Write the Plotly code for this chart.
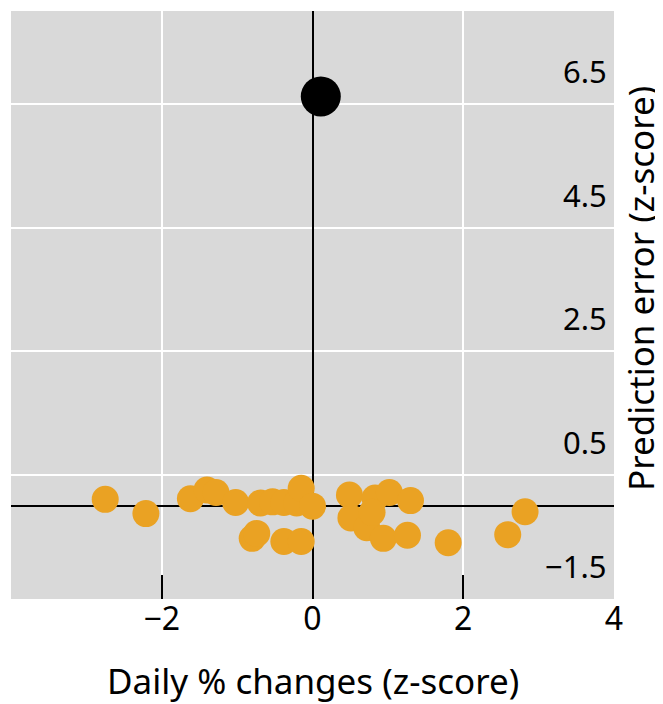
import plotly.graph_objects as go

# Data
orange_x = [-2.75, -2.21, -1.62, -1.40, -1.28, -1.02, -0.80, -0.74, -0.69, -0.53,
            -0.38, -0.21, -0.15, 0.00, -0.38, -0.15, 0.49, 0.51, 0.83, 1.02,
            1.30, 0.72, 0.94, 1.26, 1.80, 2.59, 2.82, 0.79]
orange_y = [0.11, -0.12, 0.12, 0.26, 0.22, 0.06, -0.52, -0.44, 0.05, 0.07,
            0.06, 0.05, 0.29, 0.00, -0.57, -0.57, 0.18, -0.19, 0.13, 0.22,
            0.09, -0.35, -0.52, -0.47, -0.59, -0.46, -0.09, -0.10]
outlier_x = [0.11]
outlier_y = [6.62]

x_tick_vals = [-4, -2, 0, 2, 4]
x_tick_text = ["", "\u22122", "0", "2", "4"]
y_grid_vals = [0.5, 2.5, 4.5, 6.5]
y_label_vals = [6.5, 4.5, 2.5, 0.5, -1.5]
y_label_text = ["6.5", "4.5", "2.5", "0.5", "\u22121.5"]

FONT = "Noto Sans"
ORANGE = "#EAA223"
TICK_SIZE = 31
XTICK_SIZE = 32
TITLE_SIZE = 35

fig = go.Figure()
fig.add_trace(go.Scatter(x=orange_x, y=orange_y, mode="markers",
                         marker=dict(size=27, color=ORANGE, line=dict(width=0)),
                         showlegend=False, hoverinfo="skip"))
fig.add_trace(go.Scatter(x=outlier_x, y=outlier_y, mode="markers",
                         marker=dict(size=40, color="black", line=dict(width=0)),
                         showlegend=False, hoverinfo="skip"))

annotations = []
for v, t in zip(y_label_vals, y_label_text):
    annotations.append(dict(x=1, xref="paper", y=v, yref="y", text=t,
                            showarrow=False, xanchor="right", yanchor="middle",
                            xshift=-5, yshift=33,
                            font=dict(family=FONT, size=TICK_SIZE, color="black")))
annotations.append(dict(x=0.5, xref="paper", y=0, yref="paper",
                        text="Daily % changes (z-score)", showarrow=False,
                        xanchor="center", yanchor="middle", yshift=-81,
                        font=dict(family=FONT, size=TITLE_SIZE, color="black")))
annotations.append(dict(x=1, xref="paper", y=0.5, yref="paper",
                        text="Prediction error (z-score)", showarrow=False,
                        textangle=-90, xanchor="center", yanchor="middle",
                        xshift=26, yshift=16,
                        font=dict(family=FONT, size=TITLE_SIZE, color="black")))

fig.update_layout(
    width=655, height=696,
    margin=dict(l=3, r=49, t=3, b=105),
    paper_bgcolor="white",
    plot_bgcolor="#D9D9D9",
    font=dict(family=FONT, size=TICK_SIZE, color="black"),
    annotations=annotations,
    xaxis=dict(range=[-4, 4], tickvals=x_tick_vals, ticktext=x_tick_text,
               showgrid=True, gridcolor="white", gridwidth=2,
               zeroline=True, zerolinecolor="black", zerolinewidth=2,
               ticks="inside", ticklen=24, tickwidth=2, tickcolor="black",
               ticklabelstandoff=-2,
               showline=False, tickfont=dict(family=FONT, size=XTICK_SIZE, color="black")),
    yaxis=dict(range=[-1.5, 8], tickvals=y_grid_vals, showticklabels=False,
               showgrid=True, gridcolor="white", gridwidth=2,
               zeroline=True, zerolinecolor="black", zerolinewidth=2,
               ticks="", showline=False),
)

fig.write_html("out.html")
